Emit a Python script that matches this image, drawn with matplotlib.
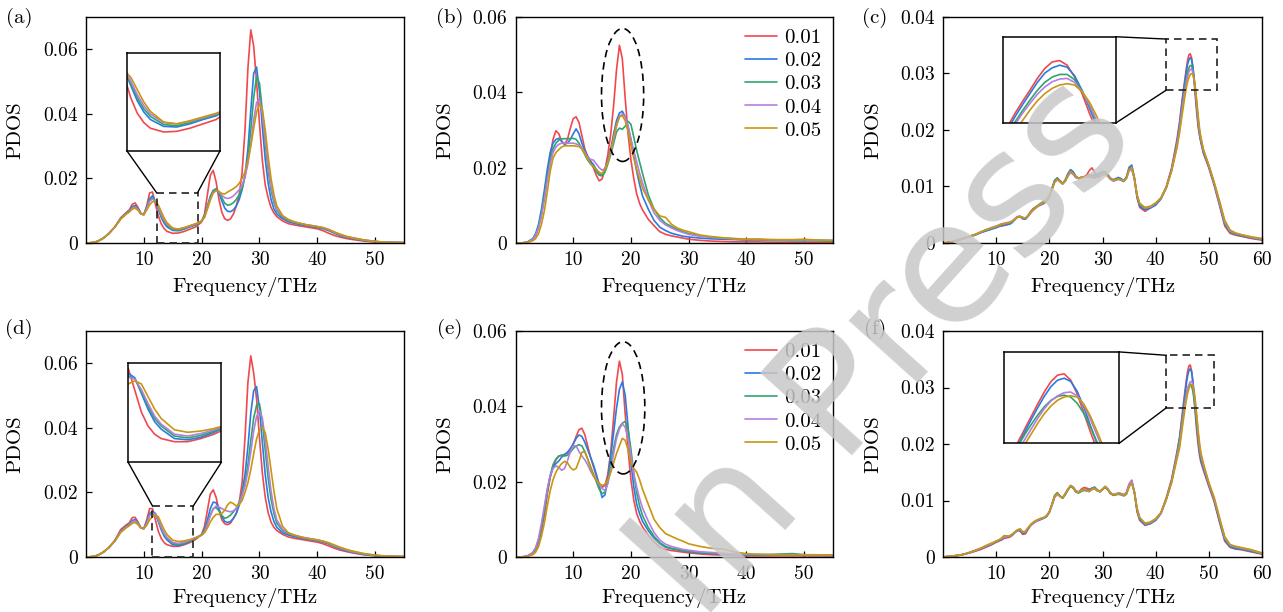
import numpy as np
import matplotlib
matplotlib.use("Agg")
import matplotlib.pyplot as plt
from matplotlib.patches import Rectangle, Ellipse

plt.rcParams['font.family'] = ['cmr10', 'DejaVu Serif']
plt.rcParams['mathtext.fontset'] = 'cm'
plt.rcParams['axes.formatter.use_mathtext'] = True

LABELS = ['0.01', '0.02', '0.03', '0.04', '0.05']
COLORS = ['#F0484C', '#2A7BE0', '#2FA56C', '#B47EE0', '#C9960F']

# ---------------- (a) / (d) : frequency grid (THz), PDOS in 1e-3 ----------------
FREQ_AD = [0, 1, 2, 3, 4, 5, 6, 7,
           7.5, 8, 8.5, 9, 9.5, 10, 10.5, 11, 11.5, 12, 12.5, 13, 13.5, 14,
           15, 16, 17, 18, 19, 20,
           20.5, 21, 21.5, 22, 22.5, 23, 23.5, 24, 24.5, 25, 25.5, 26, 26.5, 27, 27.5, 28,
           28.5, 29, 29.5, 30, 30.5, 31, 31.5, 32, 32.5, 33,
           34, 35, 36, 37, 38, 39, 40, 41, 42, 43, 44, 45, 46,
           48, 50, 52, 55]

A_RED = [0, 0.1, 0.5, 1.5, 3.0, 5.0, 7.8, 9.5,
         10.3, 12.0, 12.4, 11.0, 9.2, 8.8, 11.5, 15.5, 15.8, 12.0, 8.5, 6.0, 4.5, 3.6,
         3.0, 3.1, 3.6, 4.3, 5.0, 6.5,
         9.0, 15.0, 21.0, 22.5, 19.0, 13.5, 9.5, 7.5, 7.0, 7.5, 9.0, 11.5, 15.0, 22.0, 35.0, 54.0,
         66.0, 61.0, 50.0, 37.0, 25.5, 18.0, 14.0, 11.0, 9.3, 8.2,
         6.8, 6.0, 5.6, 5.3, 5.0, 4.7, 4.4, 3.8, 3.0, 2.3, 1.8, 1.4, 1.1,
         0.6, 0.3, 0.2, 0.1]
A_BLUE = [0, 0.1, 0.5, 1.5, 3.0, 5.0, 7.6, 9.3,
          10.0, 11.3, 11.6, 10.6, 9.0, 8.8, 11.0, 13.8, 14.6, 13.0, 10.5, 8.0, 6.2, 5.0,
          3.9, 3.8, 4.3, 5.0, 5.6, 6.8,
          8.5, 11.5, 14.5, 16.3, 16.8, 15.5, 13.0, 10.8, 9.8, 9.7, 10.3, 11.5, 13.5, 16.5, 21.0, 29.0,
          41.0, 52.5, 54.5, 47.0, 36.0, 26.0, 18.5, 13.5, 10.5, 9.0,
          7.5, 6.6, 6.1, 5.7, 5.4, 5.1, 4.8, 4.4, 3.8, 3.0, 2.3, 1.8, 1.4,
          0.8, 0.4, 0.2, 0.1]
A_GREEN = [0, 0.1, 0.5, 1.5, 3.0, 5.0, 7.5, 9.2,
           9.8, 11.0, 11.3, 10.4, 9.0, 8.8, 10.8, 13.2, 14.0, 13.0, 10.8, 8.5, 6.7, 5.5,
           4.2, 4.0, 4.5, 5.2, 5.8, 6.8,
           8.3, 11.0, 14.0, 16.0, 16.6, 15.8, 14.0, 12.3, 11.7, 11.9, 12.5, 13.5, 15.0, 17.0, 20.5, 26.0,
           35.0, 45.0, 51.5, 49.5, 41.0, 31.0, 22.5, 16.5, 12.5, 10.0,
           8.0, 7.0, 6.4, 6.0, 5.6, 5.3, 5.0, 4.6, 4.0, 3.2, 2.5, 1.9, 1.5,
           0.9, 0.5, 0.2, 0.1]
A_PURPLE = [0, 0.1, 0.5, 1.5, 3.0, 5.0, 7.5, 9.1,
            9.7, 10.8, 11.1, 10.3, 9.0, 8.8, 10.6, 12.9, 13.6, 13.0, 11.2, 9.0, 7.2, 5.9,
            4.5, 4.3, 4.7, 5.3, 5.9, 6.8,
            8.0, 10.8, 13.6, 15.6, 16.2, 15.8, 14.8, 14.0, 13.8, 14.0, 14.6, 15.5, 16.5, 18.0, 20.5, 24.5,
            30.5, 38.0, 43.5, 44.5, 40.0, 32.0, 24.0, 17.5, 13.5, 10.5,
            8.3, 7.2, 6.5, 6.1, 5.7, 5.4, 5.1, 4.7, 4.1, 3.3, 2.6, 2.0, 1.6,
            0.9, 0.5, 0.2, 0.1]
A_GOLD = [0, 0.1, 0.5, 1.5, 3.0, 5.0, 7.4, 9.0,
          9.6, 10.5, 10.8, 10.1, 9.0, 8.8, 10.2, 11.8, 12.8, 12.9, 11.8, 9.8, 7.8, 6.3,
          4.6, 4.3, 4.8, 5.4, 6.0, 6.8,
          8.0, 10.5, 13.3, 15.5, 16.3, 16.0, 15.3, 15.2, 15.8, 16.3, 16.8, 17.5, 18.5, 20.0, 22.0, 25.5,
          30.0, 35.5, 40.5, 43.0, 41.5, 35.0, 27.0, 20.0, 15.0, 11.5,
          8.5, 7.3, 6.6, 6.1, 5.7, 5.4, 5.1, 4.8, 4.2, 3.4, 2.7, 2.1, 1.7,
          1.0, 0.5, 0.2, 0.1]

D_RED = [0, 0.1, 0.5, 1.5, 3.0, 5.2, 8.5, 10.0,
         10.6, 12.2, 12.3, 10.8, 9.0, 8.8, 11.5, 15.0, 15.0, 11.5, 8.0, 5.8, 4.5, 3.8,
         3.3, 3.3, 3.8, 4.5, 5.5, 7.0,
         9.5, 14.5, 19.5, 20.8, 18.5, 14.5, 11.5, 10.3, 10.0, 10.5, 12.0, 13.5, 17.0, 23.0, 37.0, 54.0,
         62.3, 57.0, 49.0, 37.0, 26.0, 18.5, 13.8, 10.8, 9.2, 8.2,
         7.0, 6.2, 5.8, 5.5, 5.2, 4.9, 4.6, 4.1, 3.4, 2.7, 2.1, 1.7, 1.3,
         0.7, 0.4, 0.2, 0.1]
D_BLUE = [0, 0.1, 0.5, 1.5, 3.0, 5.0, 8.0, 9.6,
          10.2, 11.3, 11.6, 10.5, 9.0, 8.8, 10.8, 13.5, 14.2, 13.5, 11.0, 8.5, 6.5, 5.3,
          3.8, 3.6, 4.0, 4.8, 5.8, 7.0,
          8.5, 11.5, 15.0, 17.0, 16.8, 15.0, 12.5, 11.0, 10.7, 11.0, 12.0, 13.5, 16.0, 20.0, 25.5, 34.0,
          44.5, 51.5, 52.8, 46.0, 35.5, 25.5, 18.5, 14.0, 11.0, 9.2,
          7.5, 6.8, 6.3, 5.9, 5.6, 5.3, 5.0, 4.6, 4.0, 3.2, 2.5, 1.9, 1.5,
          0.8, 0.4, 0.2, 0.1]
D_GREEN = [0, 0.1, 0.5, 1.5, 3.0, 5.0, 7.8, 9.4,
           10.0, 11.0, 11.3, 10.3, 9.0, 8.8, 10.5, 13.0, 13.8, 13.3, 11.3, 9.0, 7.0, 5.8,
           4.2, 3.9, 4.3, 5.0, 5.9, 6.8,
           8.0, 10.5, 13.0, 15.0, 15.3, 14.3, 12.8, 12.0, 12.3, 13.0, 14.0, 15.2, 17.0, 19.5, 23.0, 28.5,
           36.0, 43.0, 47.0, 47.5, 42.0, 33.0, 24.5, 18.0, 13.5, 10.5,
           8.2, 7.2, 6.6, 6.1, 5.8, 5.5, 5.2, 4.8, 4.2, 3.4, 2.7, 2.1, 1.6,
           0.9, 0.5, 0.2, 0.1]
D_PURPLE = [0, 0.1, 0.5, 1.5, 3.0, 5.0, 7.8, 9.3,
            9.9, 10.9, 11.2, 10.2, 9.0, 8.8, 10.3, 12.8, 13.6, 13.3, 11.6, 9.4, 7.4, 6.1,
            4.5, 4.2, 4.6, 5.2, 6.0, 6.8,
            7.8, 10.0, 12.8, 14.8, 15.8, 15.5, 15.0, 14.5, 14.2, 14.0, 14.3, 15.0, 16.5, 19.0, 22.0, 26.5,
            32.5, 39.0, 43.5, 45.3, 43.0, 36.5, 28.0, 20.5, 15.0, 11.5,
            8.6, 7.4, 6.8, 6.3, 5.9, 5.6, 5.3, 4.9, 4.3, 3.5, 2.8, 2.2, 1.7,
            1.0, 0.5, 0.2, 0.1]
D_GOLD = [0, 0.1, 0.5, 1.5, 3.0, 5.0, 7.6, 9.1,
          9.7, 10.4, 10.7, 10.0, 9.0, 8.8, 9.8, 11.5, 12.5, 13.0, 12.5, 10.5, 8.5, 7.0,
          5.2, 4.8, 5.0, 5.4, 6.0, 6.8,
          7.5, 9.0, 10.8, 12.3, 13.2, 13.2, 13.5, 14.5, 16.2, 17.0, 16.5, 15.8, 16.2, 17.5, 20.0, 23.0,
          27.0, 32.0, 36.5, 39.5, 40.2, 38.5, 33.5, 27.0, 20.5, 15.0,
          9.5, 7.5, 6.8, 6.3, 5.9, 5.6, 5.3, 4.9, 4.4, 3.7, 3.0, 2.4, 1.9,
          1.1, 0.6, 0.3, 0.1]

# ---------------- (b) / (e) ----------------
FREQ_BE = [0, 1, 2, 3,
           3.5, 4, 4.5, 5, 5.5, 6, 6.5, 7, 7.5, 8, 8.5, 9, 9.5, 10, 10.5, 11, 11.5, 12, 12.5,
           13, 13.5, 14, 14.5, 15, 15.5, 16, 16.5, 17, 17.5, 18, 18.5, 19, 19.5, 20, 20.5, 21,
           21.5, 22,
           23, 24, 25, 26, 27, 28, 29, 30,
           32, 34, 36, 38, 40, 42, 44, 46, 48, 50, 52,
           55]

B_RED = [0, 0, 0.2, 1.0,
         2.0, 4.2, 7.5, 12.0, 17.5, 23.0, 27.5, 29.8, 29.0, 27.0, 26.2, 27.5, 30.5, 33.0, 33.5, 32.0,
         28.5, 25.0, 23.0, 21.5, 20.0, 18.0, 16.5, 17.0, 19.5, 23.5, 29.0, 36.5, 46.0, 52.5, 49.0,
         38.5, 29.0, 22.0, 17.0, 13.0, 10.5, 8.8,
         6.3, 4.6, 3.0, 2.3, 1.9, 1.6, 1.3, 1.0,
         0.7, 0.5, 0.4, 0.3, 0.3, 0.3, 0.2, 0.2, 0.2, 0.2, 0.2,
         0.2]
B_BLUE = [0, 0, 0.2, 1.2,
          2.5, 5.0, 9.0, 14.0, 19.5, 24.0, 26.5, 27.5, 27.8, 27.0, 26.2, 26.5, 27.5, 29.0, 30.3, 29.0,
          26.5, 24.5, 23.0, 21.8, 20.8, 19.5, 18.2, 18.0, 19.5, 22.0, 25.0, 29.0, 32.5, 34.5, 35.0,
          33.5, 31.0, 27.5, 23.0, 19.0, 15.5, 12.5,
          9.0, 6.0, 4.2, 3.3, 2.6, 2.2, 1.8, 1.6,
          1.3, 1.1, 1.0, 0.9, 0.8, 0.8, 0.7, 0.7, 0.7, 0.7, 0.7,
          0.6]
B_GREEN = [0, 0, 0.2, 1.0,
           2.2, 4.5, 8.0, 12.5, 17.5, 22.0, 25.0, 26.5, 27.3, 27.6, 27.7, 27.7, 27.7, 27.8, 27.5, 26.5,
           25.0, 23.5, 22.0, 21.0, 20.2, 19.0, 18.0, 17.8, 18.8, 21.0, 23.5, 26.5, 29.5, 30.5, 30.2,
           31.0, 32.3, 31.5, 28.0, 24.5, 21.5, 18.5,
           12.8, 9.0, 6.7, 5.2, 4.4, 3.6, 3.0, 2.5,
           1.9, 1.5, 1.2, 1.0, 0.9, 0.8, 0.7, 0.7, 0.6, 0.6, 0.6,
           0.5]
B_PURPLE = [0, 0, 0.2, 1.0,
            2.0, 4.0, 7.2, 11.5, 16.5, 21.0, 24.0, 25.5, 26.2, 26.5, 26.5, 26.5, 26.5, 26.5, 26.3, 26.0,
            25.2, 24.0, 22.8, 22.2, 22.0, 21.0, 20.0, 19.3, 19.8, 21.5, 24.0, 27.5, 31.0, 33.5, 34.3,
            33.5, 31.0, 27.5, 24.5, 21.5, 18.5, 16.0,
            11.5, 8.0, 6.0, 4.8, 4.0, 3.3, 2.8, 2.3,
            1.8, 1.5, 1.3, 1.1, 1.0, 0.9, 0.9, 0.8, 0.8, 0.8, 0.7,
            0.7]
B_GOLD = [0, 0, 0.1, 0.6,
          1.2, 2.5, 5.0, 8.5, 13.5, 19.0, 22.5, 24.0, 24.8, 25.5, 25.8, 25.8, 25.8, 25.8, 25.7, 25.6,
          25.0, 23.8, 22.3, 21.0, 20.3, 19.5, 18.8, 18.4, 19.5, 21.5, 24.5, 28.0, 31.5, 33.5, 33.8,
          32.5, 29.5, 26.0, 22.5, 19.5, 17.0, 14.5,
          11.5, 9.0, 7.2, 6.8, 5.0, 4.0, 3.4, 3.0,
          2.1, 1.7, 1.4, 1.2, 1.0, 1.1, 0.9, 0.9, 0.9, 1.0, 0.8,
          0.7]

E_RED = [0, 0, 0.2, 1.0,
         2.0, 3.8, 7.0, 11.0, 16.5, 21.0, 24.0, 25.8, 26.8, 27.0, 27.2, 27.6, 28.5, 30.0, 32.0, 33.8,
         34.2, 32.5, 29.5, 26.5, 24.0, 21.5, 19.5, 18.5, 19.0, 22.0, 28.0, 37.0, 46.5, 52.0, 48.5,
         38.0, 28.5, 20.5, 15.0, 11.5, 9.5, 8.0,
         5.8, 4.0, 2.6, 2.0, 1.7, 1.5, 1.3, 1.1,
         0.8, 0.6, 0.5, 0.4, 0.3, 0.3, 0.3, 0.3, 0.3, 0.3, 0.3,
         0.3]
E_BLUE = [0, 0, 0.2, 1.1,
          2.3, 4.5, 8.0, 12.5, 17.5, 21.5, 23.8, 24.8, 25.5, 26.5, 27.2, 27.8, 28.8, 30.0, 31.5, 32.4,
          32.0, 30.5, 28.5, 26.5, 24.5, 22.0, 19.0, 15.8, 16.5, 21.0, 27.0, 33.0, 39.5, 44.5, 46.5,
          43.0, 34.5, 25.0, 18.5, 14.0, 11.5, 9.5,
          7.0, 5.0, 3.5, 2.6, 2.2, 1.9, 1.6, 1.4,
          1.1, 0.9, 0.8, 0.6, 0.5, 0.5, 0.5, 0.5, 0.5, 0.5, 0.4,
          0.4]
E_GREEN = [0, 0, 0.2, 1.1,
           2.3, 4.5, 8.0, 12.5, 17.5, 21.5, 24.5, 26.0, 26.8, 27.0, 26.8, 27.0, 27.8, 28.8, 29.5, 29.8,
           29.5, 28.0, 26.0, 24.0, 22.0, 20.0, 18.0, 16.8, 17.2, 20.0, 24.5, 29.0, 32.5, 34.5, 35.5,
           36.0, 34.0, 28.5, 22.0, 17.0, 13.5, 11.0,
           7.8, 5.5, 3.8, 2.8, 2.3, 2.0, 1.7, 1.5,
           1.2, 1.0, 0.9, 0.7, 0.6, 0.6, 0.6, 0.8, 0.9, 0.6, 0.5,
           0.5]
E_PURPLE = [0, 0, 0.2, 1.2,
            2.5, 5.0, 9.0, 13.5, 18.0, 21.5, 23.5, 24.2, 23.8, 23.0, 23.5, 25.5, 28.0, 29.5, 29.5, 28.0,
            26.8, 25.8, 24.5, 22.8, 21.5, 20.5, 19.3, 18.2, 17.6, 19.5, 23.0, 27.5, 31.5, 34.0, 35.3,
            34.5, 31.5, 27.0, 22.0, 18.5, 15.5, 13.0,
            9.5, 6.5, 4.5, 3.4, 2.8, 2.4, 2.0, 1.8,
            1.4, 1.2, 1.0, 0.8, 0.7, 0.7, 0.6, 0.6, 0.6, 0.6, 0.5,
            0.5]
E_GOLD = [0, 0, 0.1, 0.6,
          1.3, 2.8, 5.5, 9.0, 13.5, 17.5, 20.5, 22.5, 23.8, 24.8, 25.4, 25.0, 23.8, 23.1, 23.5, 25.5,
          27.8, 28.0, 26.0, 23.5, 21.5, 20.5, 19.5, 19.0, 19.3, 20.5, 22.5, 25.0, 27.5, 29.5, 31.5,
          31.0, 28.5, 25.0, 23.5, 22.5, 20.5, 18.0,
          14.0, 10.0, 7.8, 6.2, 5.5, 4.8, 4.2, 3.5,
          2.8, 2.3, 2.1, 1.3, 0.9, 0.7, 0.7, 0.6, 0.6, 0.6, 0.6,
          0.5]

# ---------------- (c) / (f) ----------------
FREQ_CF = [0, 1, 2, 3, 4, 5, 6, 7, 8, 9,
           10, 10.5, 11, 11.5, 12, 12.5, 13, 13.5, 14, 14.5, 15, 15.5, 16, 16.5, 17, 17.5, 18, 18.5,
           19, 19.5, 20, 20.5, 21, 21.5, 22, 22.5, 23, 23.5, 24, 24.5, 25, 25.5, 26, 26.5, 27, 27.5,
           28, 28.5, 29, 29.5, 30, 30.5, 31, 31.5, 32, 32.5, 33, 33.5, 34, 34.5, 35, 35.5, 36, 36.5, 37,
           38, 39, 40, 41, 42, 43, 44,
           44.5, 44.75, 45, 45.25, 45.5, 45.75, 46, 46.25, 46.5, 46.75, 47, 47.25, 47.5, 47.75, 48,
           48.25, 48.5,
           49, 50, 51, 52, 53, 54, 55, 56, 58, 60]

C_RED = [0, 0.1, 0.2, 0.5, 0.8, 1.1, 1.4, 1.8, 2.2, 2.5,
         2.8, 3.0, 3.0, 3.1, 3.2, 3.5, 3.8, 4.2, 4.6, 4.7, 4.3, 4.3, 4.9, 5.6, 6.1, 6.4, 6.6, 6.8,
         7.0, 7.4, 8.2, 9.6, 11.0, 11.5, 11.0, 10.6, 11.0, 12.0, 12.7, 12.2, 11.6, 11.5, 11.6, 11.7,
         12.0, 12.8, 13.3, 12.6, 11.8, 11.9, 12.2, 12.3, 11.9, 11.3, 11.1, 11.2, 11.5, 11.3, 11.0,
         11.6, 13.1, 13.5, 11.3, 8.0, 6.3,
         5.6, 6.2, 6.8, 7.9, 10.0, 13.3, 18.3,
         21.5, 23.5, 25.5, 27.3, 29.0, 30.8, 32.3, 33.3, 33.5, 32.8, 31.0, 28.5, 25.5, 22.8, 20.5,
         19.0, 17.8,
         15.8, 13.3, 10.2, 6.7, 3.0, 1.7, 1.4, 1.2, 0.8, 0.5]
C_BLUE = [0, 0.1, 0.3, 0.5, 0.8, 1.1, 1.4, 1.8, 2.1, 2.4,
          2.7, 2.9, 3.1, 3.2, 3.3, 3.3, 3.6, 4.1, 4.6, 4.7, 4.3, 4.2, 4.7, 5.4, 6.0, 6.3, 6.6, 6.8,
          7.1, 7.5, 8.3, 9.7, 11.1, 11.5, 11.0, 10.5, 11.2, 12.3, 13.0, 12.6, 11.8, 11.5, 11.6, 11.7,
          11.8, 12.0, 12.0, 12.0, 12.2, 12.4, 12.6, 12.6, 12.1, 11.5, 11.2, 11.4, 11.6, 11.4, 11.0,
          11.7, 13.4, 13.8, 11.6, 8.2, 6.5,
          5.9, 6.2, 6.7, 7.8, 9.8, 13.0, 17.8,
          21.0, 23.0, 25.0, 26.8, 28.5, 30.2, 31.6, 32.4, 32.8, 32.5, 31.2, 29.0, 26.3, 23.5, 21.0,
          19.3, 18.0,
          16.0, 13.5, 10.4, 6.9, 3.3, 1.9, 1.5, 1.3, 0.9, 0.6]
C_GREEN = [0, 0.1, 0.3, 0.6, 0.9, 1.2, 1.5, 1.9, 2.3, 2.6,
           2.9, 3.1, 3.3, 3.4, 3.5, 3.6, 3.8, 4.2, 4.6, 4.7, 4.5, 4.4, 4.8, 5.4, 6.0, 6.4, 6.8, 7.1,
           7.4, 7.7, 8.3, 9.6, 11.0, 11.4, 10.9, 10.5, 11.0, 12.0, 12.6, 12.2, 11.6, 11.4, 11.5, 11.6,
           11.8, 12.0, 12.0, 11.8, 11.9, 12.0, 12.2, 12.3, 11.9, 11.3, 11.0, 11.1, 11.3, 11.1, 10.9,
           11.5, 13.0, 13.2, 11.4, 8.4, 6.8,
           6.1, 6.4, 7.0, 7.9, 9.8, 12.9, 17.4,
           20.5, 22.3, 24.2, 25.9, 27.5, 29.0, 30.2, 31.0, 31.4, 31.4, 30.6, 28.9, 26.6, 24.0, 21.5,
           19.6, 18.2,
           16.2, 13.6, 10.5, 7.0, 3.5, 2.0, 1.6, 1.4, 1.0, 0.6]
C_PURPLE = [0, 0.1, 0.3, 0.6, 0.9, 1.2, 1.5, 1.9, 2.3, 2.7,
            3.0, 3.2, 3.4, 3.5, 3.6, 3.7, 3.9, 4.3, 4.7, 4.7, 4.5, 4.4, 4.8, 5.3, 5.8, 6.2, 6.6, 6.9,
            7.2, 7.5, 8.2, 9.4, 10.7, 11.2, 10.8, 10.4, 10.9, 11.8, 12.5, 12.1, 11.6, 11.4, 11.5, 11.6,
            11.7, 11.7, 11.6, 11.5, 11.6, 11.8, 12.1, 12.2, 11.8, 11.3, 11.0, 11.1, 11.3, 11.1, 10.9,
            11.4, 12.8, 13.0, 11.4, 8.5, 7.0,
            6.2, 6.4, 7.0, 8.0, 9.8, 12.9, 17.2,
            20.2, 22.0, 23.8, 25.5, 27.0, 28.4, 29.5, 30.3, 30.7, 30.8, 30.2, 28.8, 26.8, 24.3, 21.8,
            19.8, 18.4,
            16.4, 13.7, 10.6, 7.2, 3.7, 2.1, 1.7, 1.5, 1.0, 0.7]
C_GOLD = [0, 0.1, 0.3, 0.6, 0.9, 1.2, 1.5, 1.9, 2.3, 2.6,
          2.9, 3.1, 3.3, 3.4, 3.5, 3.6, 3.8, 4.2, 4.6, 4.7, 4.5, 4.4, 4.8, 5.4, 5.9, 6.3, 6.7, 7.0,
          7.3, 7.6, 8.3, 9.5, 10.8, 11.3, 10.9, 10.5, 11.0, 12.0, 12.7, 12.3, 11.7, 11.5, 11.6, 11.7,
          11.8, 11.9, 11.8, 11.7, 11.8, 12.0, 12.3, 12.4, 12.0, 11.4, 11.1, 11.2, 11.4, 11.2, 11.0,
          11.5, 13.0, 13.4, 11.5, 8.5, 7.0,
          6.3, 6.5, 7.1, 8.0, 9.8, 12.7, 16.8,
          19.5, 21.2, 22.8, 24.4, 26.0, 27.4, 28.5, 29.3, 29.8, 30.0, 29.8, 28.8, 27.2, 25.0, 22.5,
          20.3, 18.8,
          16.5, 13.8, 10.8, 7.5, 4.0, 2.3, 1.8, 1.5, 1.1, 0.8]

F_RED = [0, 0.1, 0.2, 0.3, 0.5, 0.7, 1.0, 1.3, 1.7, 2.1,
         2.6, 2.8, 3.0, 3.3, 3.4, 3.5, 3.8, 4.3, 4.7, 4.6, 4.0, 4.1, 4.9, 5.6, 6.0, 6.3, 6.5, 6.7,
         6.9, 7.2, 7.9, 9.3, 10.8, 11.3, 10.8, 10.5, 11.2, 12.0, 12.6, 12.2, 11.5, 11.5, 12.0, 12.3,
         12.2, 12.0, 12.1, 12.1, 11.7, 11.6, 12.0, 12.4, 11.9, 11.2, 11.0, 11.1, 11.3, 11.2, 11.0,
         11.4, 12.9, 13.6, 11.4, 8.0, 6.5,
         5.6, 5.9, 6.5, 7.8, 10.5, 13.8, 18.6,
         21.3, 23.3, 25.3, 27.3, 29.3, 31.2, 32.8, 33.8, 34.0, 33.0, 30.8, 27.8, 24.8, 22.0, 19.8,
         18.0, 16.8,
         15.3, 12.5, 9.8, 6.2, 2.8, 1.7, 1.4, 1.3, 0.9, 0.5]
F_BLUE = [0, 0.1, 0.2, 0.3, 0.5, 0.8, 1.1, 1.4, 1.8, 2.2,
          2.7, 2.9, 3.1, 3.4, 3.5, 3.6, 3.9, 4.3, 4.7, 4.7, 4.2, 4.3, 5.0, 5.6, 6.0, 6.3, 6.5, 6.7,
          6.9, 7.2, 7.9, 9.2, 10.6, 11.2, 10.8, 10.4, 11.1, 11.9, 12.5, 12.3, 11.7, 11.5, 11.8, 12.0,
          11.9, 11.8, 12.2, 12.3, 11.9, 11.6, 12.0, 12.4, 11.9, 11.3, 11.0, 11.1, 11.3, 11.2, 11.0,
          11.3, 12.7, 13.4, 11.4, 8.2, 6.6,
          5.7, 5.9, 6.5, 7.7, 10.2, 13.4, 18.0,
          20.8, 22.8, 24.8, 26.8, 28.7, 30.5, 32.0, 33.0, 33.3, 32.8, 31.2, 28.7, 25.8, 23.0, 20.6,
          18.6, 17.2,
          15.6, 12.7, 10.0, 6.4, 3.0, 1.8, 1.5, 1.4, 1.0, 0.6]
F_GREEN = [0, 0.1, 0.2, 0.3, 0.5, 0.8, 1.1, 1.5, 1.9, 2.3,
           2.8, 3.0, 3.3, 3.7, 3.7, 3.7, 4.0, 4.4, 4.7, 4.8, 4.4, 4.5, 5.1, 5.6, 6.0, 6.4, 6.6, 6.8,
           7.0, 7.3, 8.0, 9.4, 10.9, 11.4, 10.8, 10.4, 11.0, 11.9, 12.5, 12.2, 11.5, 11.3, 11.6, 11.8,
           11.7, 11.6, 12.1, 12.4, 11.9, 11.5, 11.9, 12.4, 12.0, 11.3, 10.9, 11.0, 11.1, 11.0, 10.8,
           11.1, 12.4, 13.2, 11.5, 8.5, 6.9,
           5.8, 6.0, 6.6, 7.8, 10.3, 13.5, 18.2,
           20.8, 22.6, 24.4, 26.0, 27.5, 28.8, 29.8, 30.4, 30.6, 30.3, 29.3, 27.7, 25.6, 23.2, 21.0,
           19.0, 17.6,
           16.0, 13.0, 10.2, 6.6, 3.2, 2.0, 1.7, 1.5, 1.1, 0.6]
F_PURPLE = [0, 0.1, 0.2, 0.3, 0.5, 0.8, 1.1, 1.5, 1.9, 2.3,
            2.8, 3.0, 3.2, 3.5, 3.6, 3.7, 4.0, 4.4, 4.8, 4.9, 4.5, 4.5, 5.1, 5.6, 6.0, 6.3, 6.6, 6.8,
            7.0, 7.3, 8.0, 9.2, 10.6, 11.1, 10.7, 10.5, 11.2, 12.0, 12.7, 12.4, 11.7, 11.5, 11.8, 12.0,
            11.8, 11.6, 11.9, 12.1, 11.8, 11.6, 12.0, 12.5, 12.1, 11.4, 11.1, 11.2, 11.3, 11.2, 11.0,
            11.4, 12.8, 13.5, 11.6, 8.6, 7.0,
            5.9, 6.1, 6.7, 7.8, 10.2, 13.3, 17.8,
            20.0, 21.8, 23.6, 25.3, 27.0, 28.5, 29.7, 30.5, 31.0, 31.1, 30.5, 29.0, 26.8, 24.3, 21.8,
            19.6, 18.0,
            16.2, 13.0, 10.3, 6.8, 3.4, 2.1, 1.8, 1.6, 1.2, 0.7]
F_GOLD = [0, 0.1, 0.2, 0.3, 0.5, 0.8, 1.2, 1.5, 2.0, 2.4,
          2.8, 3.0, 3.3, 3.8, 3.7, 3.7, 4.0, 4.4, 4.8, 5.0, 4.4, 4.5, 5.2, 5.8, 6.2, 6.5, 6.7, 6.9,
          7.0, 7.3, 8.0, 9.3, 10.7, 11.2, 10.7, 10.5, 11.2, 12.0, 12.6, 12.3, 11.6, 11.4, 11.8, 12.0,
          11.8, 11.6, 12.0, 12.2, 11.8, 11.6, 12.0, 12.5, 12.0, 11.3, 11.0, 11.1, 11.2, 11.1, 10.9,
          11.2, 12.5, 13.0, 11.5, 8.5, 6.9,
          6.0, 6.2, 6.8, 7.9, 10.2, 13.1, 17.3,
          19.3, 21.0, 22.8, 24.5, 26.2, 27.7, 28.9, 29.8, 30.3, 30.5, 30.3, 29.2, 27.3, 24.9, 22.4,
          20.2, 18.5,
          16.5, 13.2, 10.6, 7.0, 3.6, 2.2, 1.9, 1.7, 1.3, 0.7]

# ---------------- drawing ----------------
W, H = 1283, 612
fig = plt.figure(figsize=(W / 100, H / 100), dpi=100)


def px_axes(l, t, r, b):
    return fig.add_axes([l / W, 1 - b / H, (r - l) / W, (b - t) / H])


FS_TICK = 14
FS_LAB = 15
LW = 1.2


def plot_series(ax, freq, series, label=False):
    f = np.asarray(freq, dtype=float)
    for vals, c, lab in zip(series, COLORS, LABELS):
        v = np.asarray(vals, dtype=float) * 1e-3
        if len(v) != len(f):
            raise ValueError("length mismatch %d vs %d" % (len(v), len(f)))
        ax.plot(f, v, color=c, lw=LW, label=lab if label else None, solid_capstyle='round')


def style(ax, xmax, ymax, ystep):
    ax.set_xlim(0, xmax)
    ax.set_ylim(0, ymax)
    xt = list(range(10, xmax + 1, 10))
    ax.set_xticks(xt)
    ax.set_xticklabels([str(v) for v in xt])
    yt = np.arange(0, ymax + 1e-9, ystep)
    ax.set_yticks(yt)
    ax.set_yticklabels(['0'] + ['%.2f' % v for v in yt[1:]])
    ax.tick_params(direction='in', length=4, width=0.9, labelsize=FS_TICK, pad=6,
                   top=False, right=False)
    for s in ax.spines.values():
        s.set_linewidth(1.0)


def make_inset(ax, freq, series, box, view):
    x0, y0, w, h = box
    ins = ax.inset_axes([x0, y0, w, h], transform=ax.transData)
    plot_series(ins, freq, series)
    ins.set_xlim(view[0], view[1])
    ins.set_ylim(view[2], view[3])
    ins.set_xticks([])
    ins.set_yticks([])
    for s in ins.spines.values():
        s.set_linewidth(1.1)
    return ins


DASH = (0, (4.5, 3))

# panel geometry in pixels (left, top, right, bottom)
COLS = [(86, 404), (515.5, 833), (943, 1262)]
ROWS = [(17, 243), (331, 557)]

panels = [
    ('(a)', 0, 0, FREQ_AD, [A_RED, A_BLUE, A_GREEN, A_PURPLE, A_GOLD], 55, 0.07, 0.02),
    ('(b)', 0, 1, FREQ_BE, [B_RED, B_BLUE, B_GREEN, B_PURPLE, B_GOLD], 55, 0.06, 0.02),
    ('(c)', 0, 2, FREQ_CF, [C_RED, C_BLUE, C_GREEN, C_PURPLE, C_GOLD], 60, 0.04, 0.01),
    ('(d)', 1, 0, FREQ_AD, [D_RED, D_BLUE, D_GREEN, D_PURPLE, D_GOLD], 55, 0.07, 0.02),
    ('(e)', 1, 1, FREQ_BE, [E_RED, E_BLUE, E_GREEN, E_PURPLE, E_GOLD], 55, 0.06, 0.02),
    ('(f)', 1, 2, FREQ_CF, [F_RED, F_BLUE, F_GREEN, F_PURPLE, F_GOLD], 60, 0.04, 0.01),
]

label_x = [19, 450, 875]
ylab_x = [15, 445, 873]
letter_y = [18, 329]
xlab_y = [287, 598]

axes = {}
for letter, r, c, freq, series, xmax, ymax, ystep in panels:
    l, rr = COLS[c]
    t, b = ROWS[r]
    ax = px_axes(l, t, rr, b)
    plot_series(ax, freq, series, label=(c == 1))
    style(ax, xmax, ymax, ystep)
    axes[letter] = (ax, freq, series)
    fig.text(label_x[c] / W, 1 - letter_y[r] / H, letter, ha='center', va='center', fontsize=FS_LAB)
    fig.text(ylab_x[c] / W, 1 - ((t + b) / 2) / H, 'PDOS', rotation=90, ha='center', va='center',
             fontsize=FS_LAB)
    fig.text(((l + rr) / 2) / W, 1 - xlab_y[r] / H, 'Frequency/THz', ha='center', va='center',
             fontsize=FS_LAB)
    if c == 1:
        ax.legend(loc='upper right', frameon=False, fontsize=FS_LAB, handlelength=1.55,
                  handletextpad=0.35, labelspacing=0.22, borderaxespad=0.15)

# ---- insets for (a) and (d) ----
for letter, box, zoom in [('(a)', (7.05, 0.0286, 16.15, 0.0301), (12.2, 19.3, 0.0, 0.0156)),
                          ('(d)', (7.3, 0.0293, 16.1, 0.0307), (11.5, 18.55, 0.0, 0.0158))]:
    ax, freq, series = axes[letter]
    make_inset(ax, freq, series, box, zoom)
    ax.add_patch(Rectangle((zoom[0], zoom[2]), zoom[1] - zoom[0], zoom[3] - zoom[2],
                           fill=False, ls=DASH, lw=1.2, ec='#222222', zorder=5, clip_on=False))
    x0, y0, w, h = box
    ax.plot([x0, zoom[0]], [y0, zoom[3]], color='black', lw=1.0, zorder=5)
    ax.plot([x0 + w, zoom[1]], [y0, zoom[3]], color='black', lw=1.0, zorder=5)

# ---- insets for (c) and (f) ----
for letter, box, rect, view in [('(c)', (11.3, 0.0213, 21.3, 0.0152), (41.9, 51.6, 0.027, 0.0361),
                                 (44.6, 48.4, 0.0241, 0.0371)),
                                ('(f)', (11.5, 0.0201, 21.6, 0.0162), (42.0, 50.9, 0.0264, 0.0357),
                                 (44.2, 48.6, 0.0229, 0.0375))]:
    ax, freq, series = axes[letter]
    make_inset(ax, freq, series, box, view)
    ax.add_patch(Rectangle((rect[0], rect[2]), rect[1] - rect[0], rect[3] - rect[2],
                           fill=False, ls=DASH, lw=1.2, ec='#222222', zorder=5))
    x0, y0, w, h = box
    ax.plot([x0 + w, rect[0]], [y0 + h, rect[3]], color='black', lw=1.0, zorder=5)
    ax.plot([x0 + w, rect[0]], [y0, rect[2]], color='black', lw=1.0, zorder=5)

# ---- dashed ellipses for (b) and (e) ----
for letter, cen, wd, ht in [('(b)', (18.55, 0.0393), 7.3, 0.0353),
                            ('(e)', (18.65, 0.0396), 7.5, 0.0351)]:
    ax = axes[letter][0]
    ax.add_patch(Ellipse(cen, wd, ht, fill=False, ls=DASH, lw=1.2, ec='black', zorder=5))

# ---- watermark ----
fig.text(0.69, 0.43, 'In Press', rotation=48, fontsize=122, color='#c8c8c8', alpha=0.85,
         ha='center', va='center', family='DejaVu Sans', zorder=20)

fig.savefig('out.png', dpi=100)
